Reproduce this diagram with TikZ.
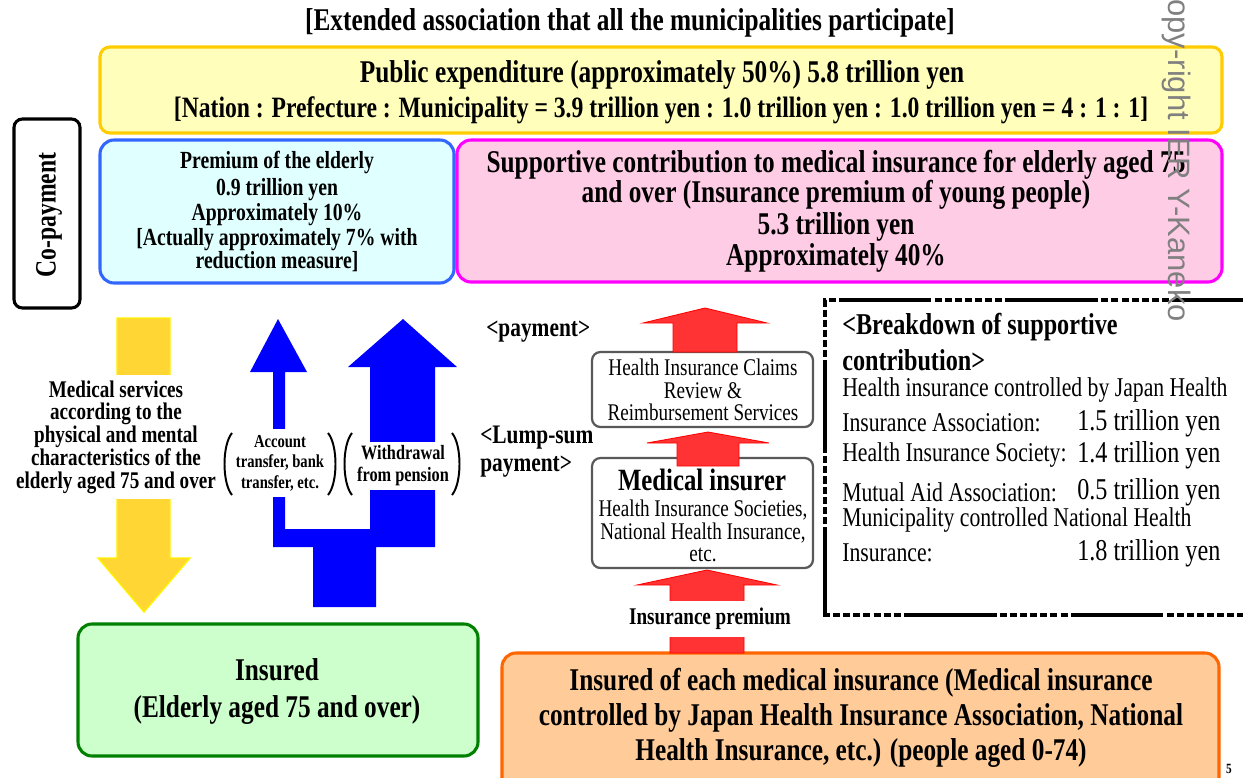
\documentclass[tikz,border=0pt]{standalone}
\usepackage{fontspec}
\setmainfont{Liberation Serif}[FakeStretch=0.8]
\newfontfamily\markfont{Liberation Sans}
\usetikzlibrary{positioning}

\begin{document}
\begin{tikzpicture}[
    x=0.025cm, y=-0.025cm,
    every node/.style={inner sep=0pt},
]

% ---------------------------------------------------------------- colours
\definecolor{pubfill}{HTML}{FFFFBB}   % public expenditure
\definecolor{publine}{HTML}{FFCC00}
\definecolor{eldfill}{HTML}{E0FFFF}   % premium of the elderly
\definecolor{eldline}{HTML}{3366FF}
\definecolor{supfill}{HTML}{FFCCE6}   % supportive contribution
\definecolor{supline}{HTML}{FF00FF}
\definecolor{insfill}{HTML}{CCFFCC}   % the insured elderly
\definecolor{insline}{HTML}{008000}
\definecolor{youfill}{HTML}{FFCC99}   % insured of each insurance
\definecolor{youline}{HTML}{FF6600}
\definecolor{svcfill}{HTML}{FFD633}
\definecolor{payblue}{HTML}{0000FF}
\definecolor{redfill}{HTML}{FF3333}
\definecolor{markgray}{HTML}{808080}

\tikzset{
    panel/.style={line width=2.2pt, rounded corners=7pt},
    greybox/.style={line width=1.6pt, rounded corners=6pt, draw=black!65, fill=white},
    headtxt/.style={font=\fontsize{22.5}{25}\selectfont\bfseries},
    eldtxt/.style={font=\fontsize{17.5}{20}\selectfont\bfseries},
    notetxt/.style={font=\fontsize{17}{16.2}\selectfont\bfseries, align=center},
    tagtxt/.style={font=\fontsize{13}{14.6}\selectfont\bfseries, align=center, fill=white},
    smalltxt/.style={font=\fontsize{17}{16}\selectfont, align=center},
    listtxt/.style={font=\fontsize{19.3}{22}\selectfont, anchor=west},
    valtxt/.style={font=\fontsize{21.5}{24}\selectfont, anchor=west},
    paytxt/.style={font=\fontsize{19}{22}\selectfont\bfseries, anchor=west},
    paren/.style={line width=1.4pt},
    redarrow/.style={fill=redfill, draw=red, line width=0.6pt},
}

% ================================================================
% GEOMETRY (one unit = one pixel of the 1243 x 777 page, y downwards)
%   top panel          x = 100 .. 1222, y = 47 .. 133
%   elderly / support  y = 140 .. 283, split at x = 455
%   payment column     x = 592 .. 813 (red arrows at x = 706)
%   breakdown          x = 825 .. (off page), y = 300 .. 615
%   insured panels     y = 624 .. 756 and 653 .. (off page)
% ================================================================
\useasboundingbox (0,0) rectangle (1243,777);

% ---------------------------------------------------------------- panels
\node[headtxt] (title) at (630,23)
    {[Extended association that all the municipalities participate]};

\filldraw[panel, fill=pubfill, draw=publine] (100,47) rectangle (1222,133);
\node[headtxt] (pub1) at (662,75)
    {Public expenditure (approximately 50\%) 5.8 trillion yen};
\node[headtxt, font=\fontsize{21}{24}\selectfont\bfseries] (pub2) at (661,110)
    {[Nation : Prefecture : Municipality = 3.9 trillion yen : 1.0 trillion yen : 1.0 trillion yen = 4 : 1 : 1]};

\filldraw[panel, fill=white, draw=black, rounded corners=6pt] (14,119) rectangle (80,308);
\node[font=\fontsize{21}{24}\selectfont\bfseries, rotate=90] (copay) at (49,215) {Co-payment};

\filldraw[panel, fill=eldfill, draw=eldline, rounded corners=10pt] (100,140) rectangle (454,283);
\foreach \t/\y [count=\i] in {Premium of the elderly/162, 0.9 trillion yen/190,
    Approximately 10\%/215, {[Actually approximately 7\% with}/240, reduction measure]/262}
    \node[eldtxt] (eld\i) at (277,\y) {\t};

\filldraw[panel, fill=supfill, draw=supline, rounded corners=10pt] (457,140) rectangle (1222,282);
\foreach \t/\y [count=\i] in {Supportive contribution to medical insurance for elderly aged 75/165,
    and over (Insurance premium of young people)/195, 5.3 trillion yen/227, Approximately 40\%/258}
    \node[headtxt] (sup\i) at (836,\y) {\t};

% ---------------------------------------------------------------- payment column
\filldraw[greybox] (592,352) rectangle (813,427);
\node[smalltxt] (review) at (703,390)
    {Health Insurance Claims\\Review \&\\Reimbursement Services};

\filldraw[greybox] (592,458) rectangle (813,568);
\node[font=\fontsize{22}{25}\selectfont\bfseries] (insurer) at (702,480) {Medical insurer};
\node[smalltxt] (insurers) at (703,531)
    {Health Insurance Societies,\\National Health Insurance,\\etc.};

\node[paytxt] (pay) at (486,332) {<payment>};
\node[paytxt] (lump1) at (480,438) {<Lump-sum};
\node[paytxt] (lump2) at (480,467) {payment>};

% ---------------------------------------------------------------- breakdown
\draw[line width=2.8pt, dash pattern=on 66pt off 2.2pt on 5pt off 2.2pt on 5pt off 2.2pt
      on 5pt off 2.2pt on 5pt off 2.2pt on 5pt off 2.2pt on 5pt off 2.2pt on 5pt off 2.2pt]
    (1265,300) -- (825,300) -- (825,615) -- (1265,615);
\node[headtxt, font=\fontsize{21.5}{24}\selectfont\bfseries, anchor=west] (brk1) at (842,327)
    {<Breakdown of supportive};
\node[headtxt, font=\fontsize{21.5}{24}\selectfont\bfseries, anchor=west] (brk2) at (842,360)
    {contribution>};
\node[listtxt] (jhia1) at (842,390) {Health insurance controlled by Japan Health};
\node[listtxt] (jhia2) at (842,423) {Insurance Association:};
\node[valtxt] (jhiav) at (1077,423) {1.5 trillion yen};
\node[listtxt] (soc) at (842,455) {Health Insurance Society:};
\node[valtxt] (socv) at (1077,455) {1.4 trillion yen};
\node[listtxt] (mut) at (842,492) {Mutual Aid Association:};
\node[valtxt] (mutv) at (1077,492) {0.5 trillion yen};
\node[listtxt] (nhi1) at (842,520) {Municipality controlled National Health};
\node[listtxt] (nhi2) at (842,553) {Insurance:};
\node[valtxt] (nhiv) at (1077,553) {1.8 trillion yen};

% ---------------------------------------------------------------- insured
\filldraw[panel, fill=insfill, draw=insline, rounded corners=10pt] (78,624) rectangle (478,756);
\node[headtxt] (old1) at (277,670) {Insured};
\node[headtxt] (old2) at (277,710) {(Elderly aged 75 and over)};

\filldraw[panel, fill=youfill, draw=youline, rounded corners=10pt] (502,653) rectangle (1219,800);
\foreach \t/\y [count=\i] in {Insured of each medical insurance (Medical insurance/683,
    {controlled by Japan Health Insurance Association, National}/718,
    {Health Insurance, etc.) (people aged 0-74)}/753}
    \node[headtxt] (you\i) at (861,\y) {\t};

% ---------------------------------------------------------------- arrows
% medical services flow down to the elderly
\filldraw[fill=svcfill, draw=yellow, line width=1pt]
    (117,318) -- (170,318) -- (170,558) -- (190,558) -- (144,612) -- (98,558) -- (117,558) -- cycle;
\node[notetxt, fill=white, inner xsep=2pt, inner ysep=4pt] (svc) at (116,437)
    {Medical services\\according to the\\physical and mental\\characteristics of the\\elderly aged 75 and over};

% premiums paid up by the elderly, split in two
\fill[payblue] (313,607) -- (313,547) -- (273,547) -- (273,372) -- (250,372) -- (278,319)
    -- (307,372) -- (285,372) -- (285,529) -- (370,529) -- (370,367) -- (348,367)
    -- (403,319) -- (457,367) -- (435,367) -- (435,547) -- (376,547) -- (376,607) -- cycle;
\node[tagtxt, inner xsep=1pt, minimum height=1.7cm] (acct) at (280,463)
    {Account\\transfer, bank\\transfer, etc.};
\draw[paren] (232,433) .. controls (222,445) and (222,483) .. (232,495);
\draw[paren] (328,433) .. controls (338,445) and (338,483) .. (328,495);
\node[tagtxt, font=\fontsize{14.5}{15.6}\selectfont\bfseries, minimum height=1.2cm,
      minimum width=2.3cm] (wdraw) at (403,466) {Withdrawal\\from pension};
\draw[paren] (352,433) .. controls (342,445) and (342,483) .. (352,495);
\draw[paren] (452,433) .. controls (462,445) and (462,483) .. (452,495);

% contributions passed upwards
\foreach \cx/\sw/\hw/\tip/\base/\bot in {705/32/62/308/323/352, 708/31/61/432/443/466,
    707/37/70/570/585/653}
    \filldraw[redarrow] (\cx-\sw,\bot) -- (\cx-\sw,\base) -- (\cx-\hw,\base) -- (\cx,\tip)
        -- (\cx+\hw,\base) -- (\cx+\sw,\base) -- (\cx+\sw,\bot) -- cycle;
\node[font=\fontsize{17}{20}\selectfont\bfseries, fill=white, minimum height=0.9cm,
      inner xsep=2pt] (prem) at (710,619) {Insurance premium};

% ---------------------------------------------------------------- marks
\node[font=\markfont\fontsize{22}{25}\selectfont, text=markgray, rotate=-90, anchor=east]
    (mark) at (1176,322) {Copy-right IER Y-Kaneko};
\node[font=\fontsize{10}{12}\selectfont\bfseries] (page) at (1229,769) {5};

\end{tikzpicture}
\end{document}
